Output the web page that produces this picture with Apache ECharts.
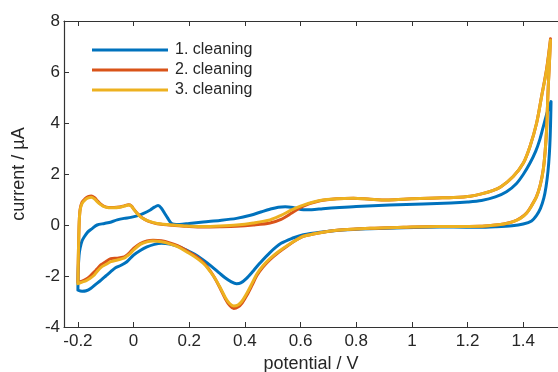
<!DOCTYPE html>
<html>
<head>
<meta charset="utf-8">
<script src="https://cdn.jsdelivr.net/npm/echarts@6/dist/echarts.min.js"></script>
<style>html,body{margin:0;padding:0;background:#fff;}#c{width:558px;height:372px;}</style>
</head>
<body>
<div id="c"></div>
<script>
const seriesNames = ['1. cleaning', '2. cleaning', '3. cleaning'];
const seriesColors = ['#0072BD', '#D95319', '#EDB120'];
const xTicks = [-0.2, 0, 0.2, 0.4, 0.6, 0.8, 1, 1.2, 1.4];
const yTicks = [-4, -2, 0, 2, 4, 6, 8];

// cleaning 1: [potential V, current uA], forward then reverse scan
const cleaning1 = [
[-0.200,-2.55],[-0.199,-1.80],[-0.196,-1.20],[-0.192,-0.90],[-0.185,-0.62],[-0.177,-0.46],[-0.165,-0.28],[-0.150,-0.15],[-0.131,0.00],[-0.105,0.06],[-0.080,0.12],[-0.059,0.20],[-0.034,0.26],[-0.010,0.30],[0.012,0.36],[0.036,0.46],[0.060,0.59],[0.075,0.70],[0.088,0.76],[0.100,0.66],[0.112,0.45],[0.122,0.28],[0.133,0.10],[0.145,0.03],[0.165,0.02],[0.20,0.06],[0.25,0.12],[0.31,0.18],[0.37,0.26],[0.42,0.38],[0.46,0.52],[0.49,0.62],[0.52,0.70],[0.545,0.72],[0.575,0.68],[0.61,0.60],[0.64,0.60],[0.68,0.64],[0.74,0.69],[0.80,0.73],[0.92,0.78],[1.04,0.82],[1.14,0.86],[1.20,0.90],[1.25,0.96],[1.30,1.10],[1.34,1.30],[1.376,1.63],[1.40,1.98],[1.424,2.42],[1.445,2.90],[1.459,3.33],[1.472,3.85],[1.486,4.40],[1.500,4.84],
[1.499,4.30],[1.497,3.50],[1.494,2.80],[1.489,2.10],[1.482,1.50],[1.474,1.05],[1.462,0.65],[1.448,0.38],[1.43,0.16],[1.40,0.04],[1.36,-0.03],[1.30,-0.07],[1.24,-0.09],[1.15,-0.08],[1.05,-0.09],[0.97,-0.11],[0.85,-0.15],[0.75,-0.20],[0.67,-0.28],[0.61,-0.38],[0.57,-0.52],[0.53,-0.72],[0.49,-1.08],[0.455,-1.48],[0.43,-1.80],[0.405,-2.10],[0.385,-2.27],[0.37,-2.30],[0.35,-2.22],[0.33,-2.08],[0.31,-1.90],[0.28,-1.62],[0.25,-1.37],[0.22,-1.15],[0.19,-0.98],[0.16,-0.84],[0.13,-0.75],[0.10,-0.72],[0.075,-0.76],[0.048,-0.86],[0.024,-1.00],[0.0,-1.18],[-0.024,-1.44],[-0.045,-1.58],[-0.065,-1.68],[-0.082,-1.83],[-0.100,-2.00],[-0.117,-2.16],[-0.135,-2.32],[-0.153,-2.48],[-0.170,-2.58],[-0.185,-2.60],[-0.200,-2.55]
];

const cleaning2 = [
[-0.200,-2.25],[-0.199,-1.50],[-0.197,-0.50],[-0.195,0.20],[-0.192,0.62],[-0.185,0.90],[-0.175,1.02],[-0.163,1.11],[-0.152,1.14],[-0.140,1.07],[-0.130,0.95],[-0.118,0.82],[-0.106,0.73],[-0.090,0.69],[-0.070,0.69],[-0.050,0.71],[-0.034,0.75],[-0.018,0.79],[-0.008,0.75],[0.000,0.63],[0.012,0.47],[0.024,0.34],[0.040,0.22],[0.060,0.12],[0.085,0.05],[0.107,0.02],[0.14,-0.01],[0.19,-0.05],[0.25,-0.08],[0.31,-0.07],[0.37,-0.05],[0.43,0.00],[0.49,0.08],[0.53,0.22],[0.57,0.48],[0.61,0.74],[0.67,0.95],[0.73,1.03],[0.79,1.05],[0.85,1.01],[0.91,0.98],[0.97,1.01],[1.03,1.04],[1.09,1.06],[1.15,1.08],[1.21,1.13],[1.25,1.22],[1.29,1.35],[1.32,1.50],[1.364,1.90],[1.40,2.42],[1.424,3.07],[1.448,3.99],[1.466,5.05],[1.484,6.12],[1.498,7.30],
[1.494,6.32],[1.490,5.44],[1.487,4.62],[1.484,3.75],[1.479,2.92],[1.472,2.18],[1.461,1.56],[1.448,1.12],[1.43,0.76],[1.412,0.47],[1.39,0.27],[1.364,0.13],[1.33,0.04],[1.30,0.00],[1.244,-0.05],[1.15,-0.06],[1.09,-0.06],[0.97,-0.09],[0.85,-0.13],[0.73,-0.21],[0.67,-0.30],[0.61,-0.44],[0.586,-0.58],[0.55,-0.84],[0.52,-1.08],[0.49,-1.36],[0.465,-1.65],[0.443,-1.98],[0.425,-2.38],[0.407,-2.76],[0.39,-3.06],[0.375,-3.22],[0.36,-3.27],[0.345,-3.15],[0.33,-2.90],[0.311,-2.48],[0.29,-2.05],[0.27,-1.72],[0.25,-1.46],[0.22,-1.20],[0.19,-1.00],[0.16,-0.82],[0.13,-0.70],[0.10,-0.62],[0.07,-0.60],[0.048,-0.63],[0.024,-0.73],[0.0,-0.92],[-0.012,-1.06],[-0.024,-1.18],[-0.034,-1.25],[-0.058,-1.30],[-0.082,-1.32],[-0.100,-1.44],[-0.117,-1.56],[-0.131,-1.72],[-0.141,-1.84],[-0.156,-2.00],[-0.170,-2.12],[-0.185,-2.20],[-0.200,-2.25]
];

const cleaning3 = [
[-0.200,-2.30],[-0.199,-1.50],[-0.197,-0.50],[-0.195,0.20],[-0.192,0.59],[-0.185,0.85],[-0.175,0.98],[-0.163,1.06],[-0.152,1.09],[-0.140,1.02],[-0.130,0.91],[-0.118,0.80],[-0.106,0.72],[-0.090,0.68],[-0.070,0.68],[-0.050,0.70],[-0.034,0.74],[-0.018,0.78],[-0.008,0.74],[0.000,0.62],[0.012,0.46],[0.024,0.33],[0.040,0.22],[0.060,0.13],[0.085,0.06],[0.107,0.03],[0.14,0.00],[0.19,-0.04],[0.25,-0.06],[0.31,-0.04],[0.37,0.00],[0.43,0.08],[0.49,0.20],[0.53,0.38],[0.57,0.60],[0.61,0.78],[0.67,0.96],[0.73,1.03],[0.79,1.05],[0.85,1.01],[0.91,0.98],[0.97,1.01],[1.03,1.04],[1.09,1.06],[1.15,1.08],[1.21,1.13],[1.25,1.22],[1.29,1.35],[1.32,1.50],[1.364,1.90],[1.40,2.42],[1.424,3.07],[1.448,3.99],[1.466,5.03],[1.484,6.08],[1.498,7.25],
[1.494,6.30],[1.490,5.42],[1.487,4.60],[1.484,3.73],[1.479,2.90],[1.472,2.16],[1.461,1.55],[1.448,1.11],[1.43,0.75],[1.412,0.46],[1.39,0.26],[1.364,0.13],[1.33,0.04],[1.30,0.00],[1.244,-0.05],[1.15,-0.06],[1.09,-0.06],[0.97,-0.09],[0.85,-0.13],[0.73,-0.21],[0.67,-0.30],[0.61,-0.44],[0.586,-0.58],[0.55,-0.82],[0.52,-1.05],[0.49,-1.32],[0.465,-1.60],[0.443,-1.92],[0.425,-2.30],[0.407,-2.68],[0.39,-2.98],[0.375,-3.14],[0.36,-3.18],[0.345,-3.08],[0.33,-2.85],[0.311,-2.45],[0.29,-2.05],[0.27,-1.75],[0.25,-1.50],[0.22,-1.25],[0.19,-1.05],[0.16,-0.86],[0.13,-0.74],[0.10,-0.66],[0.07,-0.63],[0.048,-0.66],[0.024,-0.76],[0.0,-0.98],[-0.012,-1.12],[-0.024,-1.22],[-0.034,-1.30],[-0.058,-1.37],[-0.082,-1.44],[-0.100,-1.55],[-0.117,-1.66],[-0.131,-1.82],[-0.141,-1.96],[-0.156,-2.09],[-0.170,-2.18],[-0.185,-2.24],[-0.200,-2.30]
];

const allData = [cleaning1, cleaning2, cleaning3];
const FONT = '"Liberation Sans", Arial, Helvetica, sans-serif';
const AX = '#333333';
const TXT = '#262626';

const chart = echarts.init(document.getElementById('c'), null, {renderer: 'canvas'});
const xCommon = {
  type: 'value', min: -0.25, max: 1.525,
  splitLine: {show: false},
  axisLine: {show: true, onZero: false, lineStyle: {color: AX, width: 1.2}},
  axisTick: {show: true, inside: true, length: 5, customValues: xTicks, lineStyle: {color: AX, width: 1}}
};
chart.setOption({
  animation: false,
  backgroundColor: '#ffffff',
  grid: {left: 64, right: 0, top: 21, bottom: 45, outerBoundsMode: 'none'},
  legend: {
    orient: 'vertical', left: 92, top: 40, padding: 0,
    icon: 'rect', itemWidth: 76, itemHeight: 3, itemGap: 0,
    data: seriesNames,
    textStyle: {fontFamily: FONT, fontSize: 16, color: TXT, lineHeight: 20, padding: [0, 0, 0, 2]}
  },
  xAxis: [
    Object.assign({}, xCommon, {
      position: 'bottom',
      name: 'potential / V', nameLocation: 'middle', nameGap: 22,
      nameTextStyle: {fontFamily: FONT, fontSize: 18, color: TXT},
      axisLabel: {show: true, customValues: xTicks, margin: 6, fontFamily: FONT, fontSize: 17, color: TXT,
        formatter: v => String(Math.round(v * 10) / 10)}
    }),
    Object.assign({}, xCommon, {position: 'top', axisLabel: {show: false}})
  ],
  yAxis: {
    type: 'value', min: -4, max: 8, interval: 2,
    splitLine: {show: false},
    name: 'current / µA', nameLocation: 'middle', nameGap: 36,
    nameTextStyle: {fontFamily: FONT, fontSize: 18, color: TXT},
    axisLine: {show: true, onZero: false, lineStyle: {color: AX, width: 1.2}},
    axisTick: {show: true, inside: true, length: 5, lineStyle: {color: AX, width: 1}},
    axisLabel: {margin: 4, fontFamily: FONT, fontSize: 17, color: TXT}
  },
  series: allData.map((d, i) => ({
    name: seriesNames[i], type: 'line', data: d,
    xAxisIndex: 0, yAxisIndex: 0,
    showSymbol: false, symbol: 'none', smooth: 0.3,
    color: seriesColors[i],
    lineStyle: {width: 3, color: seriesColors[i], cap: 'round', join: 'round'},
    z: 2 + i
  }))
});
</script>
</body>
</html>
